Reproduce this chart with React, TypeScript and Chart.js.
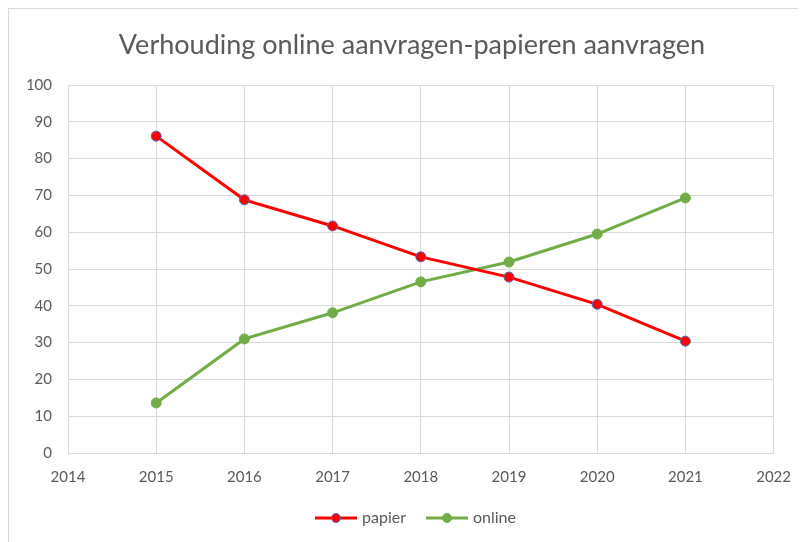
import React, { useEffect, useRef } from "react";
import { Chart, registerables } from "chart.js";

Chart.register(...registerables);

const title = "Verhouding online aanvragen-papieren aanvragen";
const years = [2015, 2016, 2017, 2018, 2019, 2020, 2021];
const papier = [86.1, 68.8, 61.7, 53.3, 47.8, 40.4, 30.4];
const online = [13.6, 31.0, 38.1, 46.5, 51.9, 59.5, 69.3];
const seriesNames = ["papier", "online"];
const xMin = 2014;
const xMax = 2022;
const yMin = 0;
const yMax = 100;
const yStep = 10;

const FONT = "Lato, 'Open Sans', sans-serif";
const TEXT = "#595959";
const GRID = "#d9d9d9";
const RED = "#ff0000";
const GREEN = "#70ad47";
const MARKER_EDGE = "#4472c4";

const titlePlugin = {
  id: "customTitle",
  afterDraw(chart: any) {
    const ctx = chart.ctx;
    ctx.save();
    ctx.font = `27px ${FONT}`;
    ctx.fillStyle = TEXT;
    ctx.textAlign = "center";
    ctx.textBaseline = "middle";
    ctx.fillText(title, 403, 36);
    ctx.restore();
  },
};

const legendPlugin = {
  id: "customLegend",
  afterDraw(chart: any) {
    const ctx = chart.ctx;
    const y = 509;
    ctx.save();
    ctx.font = `16px ${FONT}`;
    ctx.textBaseline = "middle";
    const items = chart.data.datasets.map((ds: any) => ({
      label: ds.label,
      color: ds.borderColor,
      fill: ds.pointBackgroundColor,
      edge: ds.pointBorderColor,
    }));
    const lineW = 42;
    const gap = 5;
    const itemGap = 20;
    const widths = items.map((it: any) => lineW + gap + ctx.measureText(it.label).width);
    const total = widths.reduce((a: number, b: number) => a + b, 0) + itemGap * (items.length - 1);
    let x = 406.5 - total / 2;
    items.forEach((it: any, i: number) => {
      ctx.strokeStyle = it.color;
      ctx.lineWidth = 3;
      ctx.beginPath();
      ctx.moveTo(x, y);
      ctx.lineTo(x + lineW, y);
      ctx.stroke();
      ctx.beginPath();
      ctx.arc(x + lineW / 2, y, 4.5, 0, Math.PI * 2);
      ctx.fillStyle = it.fill;
      ctx.fill();
      ctx.lineWidth = 1;
      ctx.strokeStyle = it.edge;
      ctx.stroke();
      ctx.fillStyle = TEXT;
      ctx.textAlign = "left";
      ctx.fillText(it.label, x + lineW + gap, y);
      x += widths[i] + itemGap;
    });
    ctx.restore();
  },
};

export default function App() {
  const ref = useRef<HTMLCanvasElement>(null);
  useEffect(() => {
    if (!ref.current) return;
    const chart = new Chart(ref.current, {
      type: "line",
      data: {
        datasets: [
          {
            label: seriesNames[0],
            data: years.map((x, i) => ({ x, y: papier[i] })),
            borderColor: RED,
            backgroundColor: RED,
            borderWidth: 3,
            pointRadius: 5,
            pointHoverRadius: 5,
            pointBackgroundColor: RED,
            pointBorderColor: MARKER_EDGE,
            pointBorderWidth: 1,
            tension: 0,
          },
          {
            label: seriesNames[1],
            data: years.map((x, i) => ({ x, y: online[i] })),
            borderColor: GREEN,
            backgroundColor: GREEN,
            borderWidth: 3,
            pointRadius: 5,
            pointHoverRadius: 5,
            pointBackgroundColor: GREEN,
            pointBorderColor: GREEN,
            pointBorderWidth: 1,
            tension: 0,
          },
        ],
      },
      options: {
        animation: false,
        responsive: false,
        maintainAspectRatio: false,
        layout: { padding: { left: 0, right: 30, top: 76, bottom: 40 } },
        plugins: {
          legend: { display: false },
          tooltip: { enabled: false },
          title: { display: false },
        },
        scales: {
          x: {
            type: "linear",
            min: xMin,
            max: xMax,
            ticks: {
              stepSize: 1,
              color: TEXT,
              padding: 15,
              font: { family: FONT, size: 15 },
              callback: (v: any) => String(v),
            },
            grid: { color: GRID, drawTicks: false, lineWidth: 1 },
            border: { color: GRID },
            afterFit: (s: any) => {
              s.height = 49;
            },
          },
          y: {
            min: yMin,
            max: yMax,
            ticks: {
              stepSize: yStep,
              color: TEXT,
              padding: 16,
              font: { family: FONT, size: 15 },
            },
            grid: { color: GRID, drawTicks: false, lineWidth: 1 },
            border: { color: GRID },
            afterFit: (s: any) => {
              s.width = 59;
            },
          },
        },
      },
      plugins: [titlePlugin, legendPlugin],
    });
    return () => chart.destroy();
  }, []);
  return (
    <div
      style={{
        borderTop: `1px solid ${GRID}`,
        borderLeft: `1px solid ${GRID}`,
        width: 797,
        height: 533,
        background: "#fff",
      }}
    >
      <canvas ref={ref} width={797} height={533} style={{ display: "block" }} />
    </div>
  );
}
